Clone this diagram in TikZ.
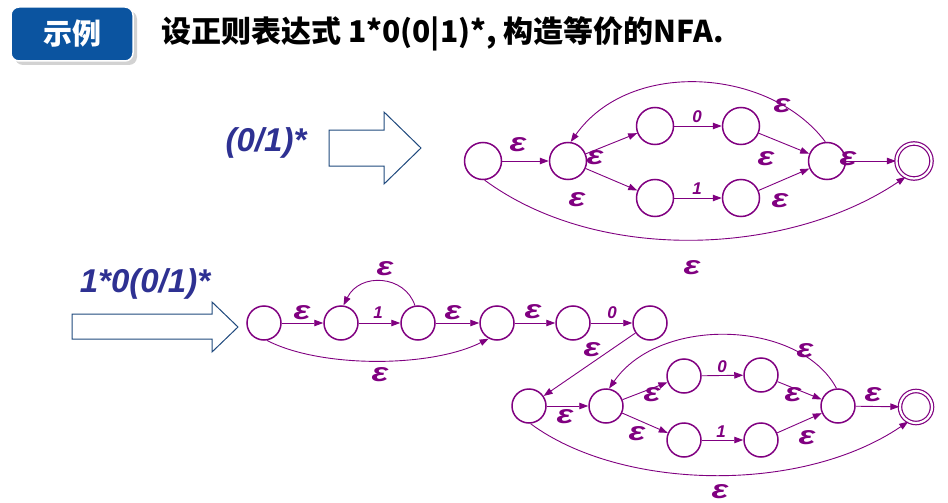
\documentclass[tikz,border=0pt]{standalone}
\usepackage{fontspec}
\usepackage{graphicx}
\setmainfont{Liberation Sans}
\newfontfamily\cjk{Noto Sans CJK SC}
\usetikzlibrary{arrows.meta}
\definecolor{npur}{RGB}{128,0,128}
\definecolor{nblue}{RGB}{46,49,146}
\definecolor{arrblue}{RGB}{31,73,125}
\definecolor{boxblue}{RGB}{11,84,160}
\newcommand\myeps{\scalebox{1.35}[1]{ε}}
\begin{document}
\begin{tikzpicture}[x=1pt,y=-1pt,
  st/.style={circle,draw=npur,line width=1.5pt,minimum size=37pt,inner sep=0pt},
  sts/.style={st,minimum size=34pt},
  fin/.style={st,double=white,double distance=2.2pt,line width=1.2pt,minimum size=35pt},
  fins/.style={fin,minimum size=32pt},
  ed/.style={draw=npur,line width=0.9pt,-{Triangle[length=9pt,width=6.5pt]}},
  lab/.style={text=npur,inner sep=0pt,font=\bfseries\itshape\fontsize{26}{26}\selectfont},
  num/.style={text=npur,inner sep=0pt,font=\bfseries\itshape\fontsize{17}{17}\selectfont},
  big/.style={draw=arrblue,line width=1pt,line join=miter},
  re/.style={text=nblue,inner sep=0pt,font=\bfseries\itshape\fontsize{33}{33}\selectfont}]
\useasboundingbox (0,0) rectangle (948,503);
% header
\fill[gray!35,rounded corners=8pt] (15,11) rectangle (137,65);
\draw[white,line width=1.5pt,fill=boxblue,rounded corners=8pt] (11,7) rectangle (133,61);
\node[text=white,inner sep=0pt,font=\cjk\bfseries\fontsize{29}{29}\selectfont] (hd) at (72,34) {示例};
\node[anchor=west,inner sep=0pt,font=\cjk\bfseries\fontsize{30}{30}\selectfont] (title) at (161,34) {设正则表达式 1*0(0|1)*, 构造等价的NFA.};
% regex labels and big arrows
\node[re] (r1) at (266,143) {(0/1)*};
\node[re] (r2) at (145,284) {1*0(0/1)*};
\draw[big] (329,130) -- (384,130) -- (384,112) -- (421,148) -- (384,184) -- (384,166) -- (329,166) -- cycle;
\draw[big] (72,314) -- (212,314) -- (212,302) -- (238,327) -- (212,352) -- (212,339) -- (72,339) -- cycle;
% top NFA
\node[st] (c1) at (483,161) {};
\node[st] (c2) at (568,161) {};
\node[st] (c3) at (655,126) {};
\node[st] (c4) at (741,126) {};
\node[st] (c5) at (655,198) {};
\node[st] (c6) at (741,198) {};
\node[st] (c7) at (827,161) {};
\node[fin] (c8) at (914,161) {};
\draw[ed] (c1) -- (c2);
\draw[ed] (c2) -- (c3);
\draw[ed] (c2) -- (c5);
\draw[ed] (c3) -- (c4);
\draw[ed] (c5) -- (c6);
\draw[ed] (c4) -- (c7);
\draw[ed] (c6) -- (c7);
\draw[ed] (c7) -- (c8);
\draw[ed] (c7.95) .. controls (770,68) and (630,58) .. (c2.82);
\draw[ed] (c1.-85) .. controls (600,265) and (790,255) .. (c8.-118);
\node[lab] (t1) at (518,145) {\myeps};
\node[lab] (t2) at (595,158) {\myeps};
\node[lab] (t3) at (577,200) {\myeps};
\node[num] (t4) at (697,117) {0};
\node[num] (t5) at (697,189) {1};
\node[lab] (t6) at (766,159) {\myeps};
\node[lab] (t7) at (780,201) {\myeps};
\node[lab] (t8) at (782,106) {\myeps};
\node[lab] (t9) at (848,159) {\myeps};
\node[lab] (t10) at (692,268) {\myeps};
% bottom NFA
\node[sts] (b1) at (264,323) {};
\node[sts] (b2) at (341,323) {};
\node[sts] (b3) at (418,323) {};
\node[sts] (b4) at (497,323) {};
\node[sts] (b5) at (573,323) {};
\node[sts] (b6) at (650,323) {};
\node[sts] (b7) at (529,406) {};
\node[sts] (b8) at (606,406) {};
\node[sts] (b9) at (684,376) {};
\node[sts] (b10) at (684,440) {};
\node[sts] (b11) at (761,375) {};
\node[sts] (b12) at (761,440) {};
\node[sts] (b13) at (838,406) {};
\node[fins] (b14) at (916,407) {};
\draw[ed] (b1) -- (b2);
\draw[ed] (b2) -- (b3);
\draw[ed] (b3) -- (b4);
\draw[ed] (b4) -- (b5);
\draw[ed] (b5) -- (b6);
\draw[ed] (b6) -- (b7);
\draw[ed] (b7) -- (b8);
\draw[ed] (b8) -- (b9);
\draw[ed] (b8) -- (b10);
\draw[ed] (b9) -- (b11);
\draw[ed] (b10) -- (b12);
\draw[ed] (b11) -- (b13);
\draw[ed] (b12) -- (b13);
\draw[ed] (b13) -- (b14);
\draw[ed] (b3.100) .. controls (405,275) and (360,272) .. (b2.82);
\draw[ed] (b1.-80) .. controls (320,368) and (430,368) .. (b4.-118);
\draw[ed] (b13.95) .. controls (800,320) and (660,315) .. (b8.80);
\draw[ed] (b7.-85) .. controls (620,490) and (800,495) .. (b14.-118);
\node[lab] (u1) at (302,313) {\myeps};
\node[num] (u2) at (378,313) {1};
\node[lab] (u3) at (385,269) {\myeps};
\node[lab] (u4) at (453,313) {\myeps};
\node[lab] (u5) at (380,375) {\myeps};
\node[lab] (u6) at (533,312) {\myeps};
\node[num] (u7) at (612,313) {0};
\node[lab] (u8) at (592,350) {\myeps};
\node[lab] (u9) at (565,417) {\myeps};
\node[lab] (u10) at (652,395) {\myeps};
\node[lab] (u11) at (637,434) {\myeps};
\node[num] (u12) at (722,367) {0};
\node[num] (u13) at (721,432) {1};
\node[lab] (u14) at (793,395) {\myeps};
\node[lab] (u15) at (807,438) {\myeps};
\node[lab] (u16) at (805,351) {\myeps};
\node[lab] (u17) at (873,395) {\myeps};
\node[lab] (u18) at (720,492) {\myeps};
\end{tikzpicture}
\end{document}
